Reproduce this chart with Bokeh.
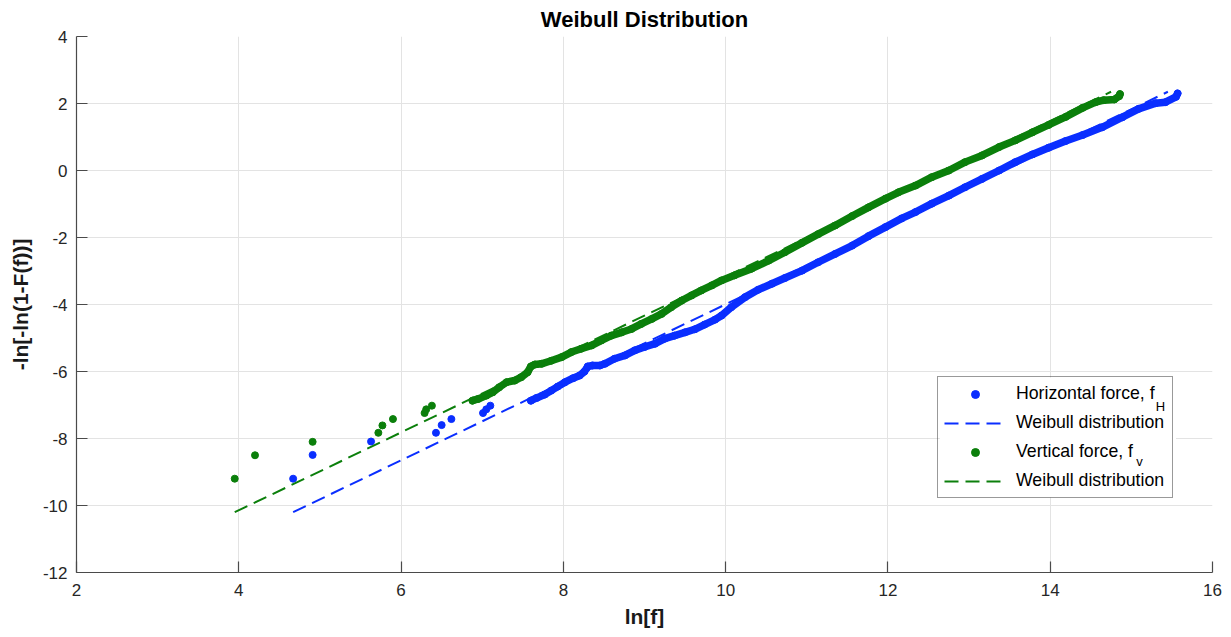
from bokeh.plotting import figure
from bokeh.models import Range1d, FixedTicker, Legend, LegendItem, Label, BoxAnnotation
from bokeh.embed import file_html
from bokeh.resources import INLINE

# ---- data ----
# Horizontal force, f_H  (ln[f], -ln[-ln(1-F(f))])
h_x = [4.67, 4.91, 5.63, 6.43, 6.50, 6.62, 7.01, 7.05, 7.10,
       7.60, 7.67, 7.77, 7.85, 7.93, 8.02, 8.12, 8.20, 8.26, 8.30,
       8.36, 8.45, 8.51, 8.63, 8.76, 8.88, 9.00, 9.13, 9.25, 9.37,
       9.50, 9.62, 9.74, 9.87, 9.95, 10.07, 10.24, 10.40, 10.57, 10.73,
       10.94, 11.14, 11.35, 11.56, 11.76, 11.97, 12.17, 12.34, 12.54, 12.75,
       12.95, 13.16, 13.37, 13.57, 13.78, 13.98, 14.19, 14.40, 14.64, 14.89,
       15.09, 15.30, 15.42, 15.55, 15.57]
h_y = [-9.20, -8.49, -8.09, -7.83, -7.60, -7.42, -7.24, -7.13, -7.02,
       -6.87, -6.79, -6.69, -6.57, -6.45, -6.32, -6.20, -6.12, -6.00, -5.85,
       -5.82, -5.82, -5.77, -5.62, -5.52, -5.37, -5.27, -5.17, -5.02, -4.93,
       -4.83, -4.74, -4.60, -4.45, -4.33, -4.08, -3.78, -3.56, -3.38, -3.21,
       -2.99, -2.74, -2.49, -2.24, -1.96, -1.69, -1.43, -1.24, -0.99, -0.75,
       -0.50, -0.25, 0.00, 0.25, 0.48, 0.68, 0.88, 1.06, 1.29, 1.59,
       1.84, 2.01, 2.04, 2.20, 2.30]

# Vertical force, f_v
v_x = [3.95, 4.20, 4.91, 5.72, 5.77, 5.90, 6.29, 6.31, 6.38,
       6.88, 6.95, 7.05, 7.13, 7.21, 7.30, 7.40, 7.48, 7.56, 7.60,
       7.65, 7.73, 7.85, 7.98, 8.10, 8.22, 8.35, 8.47, 8.59, 8.72,
       8.84, 8.96, 9.09, 9.21, 9.33, 9.46, 9.58, 9.70, 9.83, 9.95,
       10.11, 10.32, 10.53, 10.73, 10.94, 11.14, 11.35, 11.56, 11.76, 11.97,
       12.13, 12.34, 12.54, 12.75, 12.95, 13.16, 13.37, 13.57, 13.78, 13.98,
       14.19, 14.40, 14.56, 14.66, 14.79, 14.85, 14.86]
v_y = [-9.20, -8.50, -8.10, -7.83, -7.61, -7.42, -7.24, -7.13, -7.02,
       -6.87, -6.82, -6.72, -6.62, -6.47, -6.32, -6.27, -6.17, -6.02, -5.85,
       -5.79, -5.77, -5.68, -5.57, -5.42, -5.32, -5.22, -5.07, -4.93, -4.83,
       -4.73, -4.58, -4.43, -4.28, -4.08, -3.88, -3.73, -3.58, -3.43, -3.28,
       -3.13, -2.93, -2.69, -2.44, -2.16, -1.90, -1.64, -1.36, -1.10, -0.84,
       -0.65, -0.45, -0.20, 0.00, 0.25, 0.45, 0.70, 0.90, 1.14, 1.36,
       1.60, 1.87, 2.04, 2.10, 2.12, 2.22, 2.28]

# Weibull fits (line end points)
fit_h_x = [4.67, 15.45]
fit_h_y = [-10.2, 2.35]
fit_v_x = [3.95, 14.75]
fit_v_y = [-10.2, 2.35]

x_ticks = [2, 4, 6, 8, 10, 12, 14, 16]
y_ticks = [-12, -10, -8, -6, -4, -2, 0, 2, 4]

labels = ["Horizontal force, f", "Weibull distribution",
          "Vertical force, f", "Weibull distribution"]
subscripts = ["H", "v"]

# ---- style ----
BLUE = "#0a2eff"
GREEN = "#0b7f0b"
FONT = "Liberation Sans"
AXC = "#4a4a4a"
TXT = "#262626"

p = figure(width=1231, height=637,
           x_range=Range1d(2, 16), y_range=Range1d(-12, 4),
           output_backend="svg", toolbar_location=None,
           title="Weibull Distribution",
           min_border_left=76, min_border_right=19,
           min_border_top=36, min_border_bottom=65)

p.title.align = "center"
p.title.text_font = FONT
p.title.text_font_size = "22px"
p.title.text_font_style = "bold"
p.title.text_color = "#000000"
p.title.standoff = 9

p.outline_line_color = None
p.background_fill_color = "white"
p.border_fill_color = "white"

for ax, ticks in ((p.xaxis, x_ticks), (p.yaxis, y_ticks)):
    ax.ticker = FixedTicker(ticks=ticks)
    ax.major_label_overrides = {t: str(t) for t in ticks}
    ax.axis_line_color = AXC
    ax.axis_line_width = 1.2
    ax.major_tick_line_color = AXC
    ax.major_tick_line_width = 1.2
    ax.major_tick_in = 11
    ax.major_tick_out = 0
    ax.minor_tick_line_color = None
    ax.major_label_text_font = FONT
    ax.major_label_text_font_size = "17px"
    ax.major_label_text_color = TXT
    ax.axis_label_text_font = FONT
    ax.axis_label_text_font_size = "21px"
    ax.axis_label_text_font_style = "bold"
    ax.axis_label_text_color = "#1a1a1a"

p.xaxis.axis_label = "ln[f]"
p.yaxis.axis_label = "-ln[-ln(1-F(f))]"
p.xaxis.major_label_standoff = 11
p.xaxis.axis_label_standoff = 6
p.yaxis.major_label_standoff = 9
p.yaxis.axis_label_standoff = 8

p.xgrid.ticker = FixedTicker(ticks=x_ticks)
p.ygrid.ticker = FixedTicker(ticks=y_ticks)
for g in (p.xgrid, p.ygrid):
    g.grid_line_color = "#e3e3e3"
    g.grid_line_width = 1

# white backing of the legend box (hides grid lines), drawn below the legend
p.add_layout(BoxAnnotation(left=12.64, right=15.55, top=-6.18, bottom=-9.76,
                           fill_color="white", fill_alpha=1,
                           line_color=None, level="underlay"))

# ---- glyphs (MATLAB draw order) ----
# dense parts of the point clouds form a continuous band
p.line(h_x[9:], h_y[9:], line_color=BLUE, line_width=7.5,
       line_join="round", line_cap="round")
rh = p.scatter(h_x, h_y, size=7, fill_color=BLUE, line_color=BLUE)
lh = p.line(fit_h_x, fit_h_y, line_color=BLUE, line_width=2, line_dash="14 7")

p.line(v_x[9:], v_y[9:], line_color=GREEN, line_width=7.5,
       line_join="round", line_cap="round")
rv = p.scatter(v_x, v_y, size=7, fill_color=GREEN, line_color=GREEN)
lv = p.line(fit_v_x, fit_v_y, line_color=GREEN, line_width=2, line_dash="14 7")

legend = Legend(items=[LegendItem(label=labels[0], renderers=[rh]),
                       LegendItem(label=labels[1], renderers=[lh]),
                       LegendItem(label=labels[2], renderers=[rv]),
                       LegendItem(label=labels[3], renderers=[lv])],
                location=(861, 74), margin=0, padding=6, spacing=8,
                glyph_width=62, glyph_height=20, label_height=20,
                label_width=150, label_standoff=10,
                label_text_font=FONT, label_text_font_size="17.7px",
                label_text_color="#000000",
                border_line_color="#333333", border_line_width=1,
                background_fill_alpha=0)
p.add_layout(legend)

# subscripts of the legend labels (H and v)
p.add_layout(Label(x=15.30, y=-7.05, text=subscripts[0], text_font=FONT,
                   text_font_size="13px", text_baseline="middle",
                   text_color="#000000", level="overlay"))
p.add_layout(Label(x=15.06, y=-8.68, text=subscripts[1], text_font=FONT,
                   text_font_size="13px", text_baseline="middle",
                   text_color="#000000", level="overlay"))

open("out.html", "w").write(file_html(p, INLINE))
